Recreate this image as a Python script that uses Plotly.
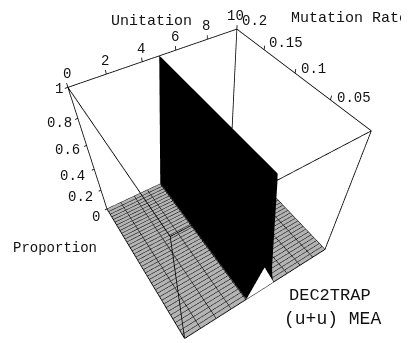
import plotly.graph_objects as go

# grid
unitation = [0, 1, 2, 3, 4, 5, 6, 7, 8, 9, 10]
mutation_rate = [
    0.0, 0.005, 0.01, 0.015, 0.02, 0.025, 0.03, 0.035, 0.04, 0.045, 0.05,
    0.055, 0.06, 0.065, 0.07, 0.075, 0.08, 0.085, 0.09, 0.095, 0.1,
    0.105, 0.11, 0.115, 0.12, 0.125, 0.13, 0.135, 0.14, 0.145, 0.15,
    0.155, 0.16, 0.165, 0.17, 0.175, 0.18, 0.185, 0.19, 0.195, 0.2,
]
# everything is 0 except the single ridge at unitation 5
ridge_unitation = 5
proportion_ridge = [
    0.28, 1, 1, 1, 1, 1, 1, 1, 1, 1, 1,
    1, 1, 1, 1, 1, 1, 1, 1, 1, 1,
    1, 1, 1, 1, 1, 1, 1, 1, 1, 1,
    1, 1, 1, 1, 1, 1, 1, 1, 1, 1,
]

unitation_ticks = [0, 2, 4, 6, 8, 10]
mutation_ticks = [0.05, 0.1, 0.15, 0.2]
mutation_tick_text = ["0.05", "0.1", "0.15", "0.2"]
proportion_ticks = [0, 0.2, 0.4, 0.6, 0.8, 1]
proportion_tick_text = ["0", "0.2", "0.4", "0.6", "0.8", "1"]

# label offsets from the axis, in pixels (right, up)
MUTATION_SHIFT = [(24, 2), (18, 4), (22, 7), (18, 8)]
PROPORTION_SHIFT = [(-11, -8), (-20, -7), (-22, -7), (-19, -5), (-18, -5), (-9, -2)]

MONO = "Liberation Mono"
INK = "#111111"
W, H = 409, 343
PAGE_MARGIN = 8  # the browser's default body margin pushes the figure by this much
FIG_W, FIG_H = W + 2 * PAGE_MARGIN, H + 2 * PAGE_MARGIN
PAD = 0.03  # axis ranges run a little past the box, else its edges get clipped


def page_label(text, px, py, size):
    # free text placed by its centre in window pixels
    return dict(
        text=text,
        x=(px - PAGE_MARGIN) / FIG_W,
        y=1 - (py - PAGE_MARGIN) / FIG_H,
        xref="paper",
        yref="paper",
        xanchor="center",
        yanchor="middle",
        showarrow=False,
        font=dict(family=MONO, size=size, color=INK),
    )


proportion = [
    [p if u == ridge_unitation else 0 for u in unitation] for p in proportion_ridge
]

U0, U1 = unitation[0], unitation[-1]
M0, M1 = mutation_rate[0], mutation_rate[-1]

surface = go.Surface(
    x=unitation,
    y=mutation_rate,
    z=proportion,
    cmin=0,
    cmax=1,
    colorscale=[[0, "#b4b4b4"], [0.01, "#000000"], [1, "#000000"]],
    showscale=False,
    hoverinfo="skip",
    lighting=dict(ambient=1, diffuse=0, specular=0, roughness=1, fresnel=0),
    contours=dict(
        x=dict(show=True, start=U0, end=U1, size=1, color="#000000", width=1),
        y=dict(show=True, start=M0, end=M1, size=0.005, color="#000000", width=2),
    ),
)

# opening under the ridge where it meets the front edge
notch = go.Mesh3d(
    x=[ridge_unitation - 1, ridge_unitation, ridge_unitation + 1],
    y=[M0, M0, M0],
    z=[0, proportion_ridge[0], 0],
    i=[0], j=[1], k=[2],
    color="#ffffff",
    opacity=1,
    flatshading=True,
    lighting=dict(ambient=1, diffuse=0, specular=0),
    hoverinfo="skip",
)

# twelve edges of the box
box_x, box_y, box_z = [], [], []
for a, b in [
    ((U0, M1, 1), (U1, M1, 1)), ((U1, M1, 1), (U1, M0, 1)), ((U1, M0, 1), (U0, M0, 1)), ((U0, M0, 1), (U0, M1, 1)),
    ((U0, M1, 0), (U1, M1, 0)), ((U1, M1, 0), (U1, M0, 0)), ((U1, M0, 0), (U0, M0, 0)), ((U0, M0, 0), (U0, M1, 0)),
    ((U0, M1, 0), (U0, M1, 1)), ((U1, M1, 0), (U1, M1, 1)), ((U1, M0, 0), (U1, M0, 1)), ((U0, M0, 0), (U0, M0, 1)),
]:
    box_x += [a[0], b[0], None]
    box_y += [a[1], b[1], None]
    box_z += [a[2], b[2], None]
# small tick marks on the three labelled edges
for t in unitation_ticks:
    box_x += [t, t, None]
    box_y += [M1, M1, None]
    box_z += [1, 1.025, None]
for t in mutation_ticks:
    box_x += [U1, U1, None]
    box_y += [t, t, None]
    box_z += [1, 1.025, None]
for t in proportion_ticks:
    box_x += [U0, U0 - 0.15, None]
    box_y += [M1, M1, None]
    box_z += [t, t, None]

box = go.Scatter3d(
    x=box_x, y=box_y, z=box_z,
    mode="lines",
    line=dict(color="#000000", width=1.6),
    hoverinfo="skip",
    showlegend=False,
)

tick_font = dict(family=MONO, size=14, color=INK)
tick_labels = []
for t in unitation_ticks:
    tick_labels.append(dict(
        x=t, y=M1, z=1, text=str(t), showarrow=False,
        xshift=-1, yshift=13, font=tick_font,
    ))
for t, s, (dx, dy) in zip(mutation_ticks, mutation_tick_text, MUTATION_SHIFT):
    tick_labels.append(dict(
        x=U1, y=t, z=1, text=s, showarrow=False,
        xshift=dx, yshift=dy, font=tick_font,
    ))
for t, s, (dx, dy) in zip(proportion_ticks, proportion_tick_text, PROPORTION_SHIFT):
    tick_labels.append(dict(
        x=U0, y=M1, z=t, text=s, showarrow=False,
        xshift=dx, yshift=dy, font=tick_font,
    ))

fig = go.Figure([surface, notch, box])

hidden = dict(visible=False)
grow = 1 + 2 * PAD
fig.update_layout(
    width=FIG_W,
    height=FIG_H,
    margin=dict(l=0, r=0, t=0, b=0),
    paper_bgcolor="#ffffff",
    showlegend=False,
    scene=dict(
        # the scene stays 409x343, the extra figure size only gives the text room
        domain=dict(x=[0, W / FIG_W], y=[1 - H / FIG_H, 1]),
        aspectmode="manual",
        aspectratio=dict(x=1.018 * grow, y=1.035 * grow, z=grow),
        camera=dict(
            eye=dict(x=-0.823, y=-1.279, z=1.748),
            center=dict(x=-0.027, y=-0.05, z=0.053),
            up=dict(x=0, y=0, z=1),
        ),
        xaxis=dict(range=[U0 - PAD * (U1 - U0), U1 + PAD * (U1 - U0)], **hidden),
        yaxis=dict(range=[M0 - PAD * (M1 - M0), M1 + PAD * (M1 - M0)], **hidden),
        zaxis=dict(range=[-PAD, 1 + PAD], **hidden),
        annotations=tick_labels,
    ),
    annotations=[
        page_label("Unitation", 151, 21, 15),
        page_label("Mutation Rate", 349, 19, 15),
        page_label("Proportion", 55, 248, 14),
        page_label("DEC2TRAP", 330, 295, 17),
        page_label("(u+u) MEA", 332, 319, 18),
    ],
)

fig.write_html("out.html")
